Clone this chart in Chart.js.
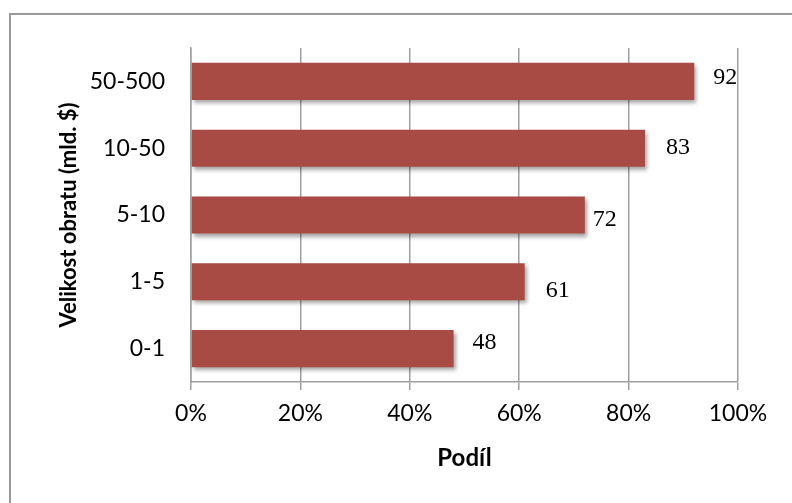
<!DOCTYPE html>
<html>
<head>
<meta charset="utf-8">
<script src="https://cdn.jsdelivr.net/npm/chart.js@4/dist/chart.umd.min.js"></script>
<style>
  html, body { margin: 0; padding: 0; background: #fff; }
  #wrap { position: relative; width: 792px; height: 503px; overflow: hidden; }
  #frame { position: absolute; left: 9px; top: 13px; width: 900px; height: 600px;
           border-left: 2px solid #9a9a9a; border-top: 2px solid #9a9a9a; }
  canvas { position: absolute; left: 0; top: 0; }
</style>
</head>
<body>
<div id="wrap">
  <div id="frame"></div>
  <canvas id="c" width="792" height="503"></canvas>
</div>
<script>
const categories = ['50-500', '10-50', '5-10', '1-5', '0-1'];
const values = [92, 83, 72, 61, 48];
const xTickValues = [0, 20, 40, 60, 80, 100];
const xTitle = 'Podíl';
const yTitle = 'Velikost obratu (mld. $)';

const barColor = '#a84b45';
const gridColor = '#9f9f9f';
const sansFont = "Lato, 'Open Sans', 'Liberation Sans', sans-serif";

const shadowPlugin = {
  id: 'barShadow',
  beforeDatasetDraw(chart) {
    const ctx = chart.ctx;
    ctx.save();
    ctx.shadowColor = 'rgba(0,0,0,0.35)';
    ctx.shadowBlur = 4;
    ctx.shadowOffsetX = 2;
    ctx.shadowOffsetY = 3;
  },
  afterDatasetDraw(chart) {
    chart.ctx.restore();
  }
};

const labelPlugin = {
  id: 'valueLabels',
  afterDatasetsDraw(chart, args, opts) {
    const ctx = chart.ctx;
    const meta = chart.getDatasetMeta(0);
    ctx.save();
    ctx.font = opts.font;
    ctx.fillStyle = '#000';
    ctx.textAlign = 'left';
    ctx.textBaseline = 'middle';
    meta.data.forEach((bar, i) => {
      const nudge = opts.nudges[i] || [0, 0];
      ctx.fillText(String(chart.data.datasets[0].data[i]), bar.x + opts.gap + nudge[0], bar.y + nudge[1]);
    });
    ctx.restore();
  }
};

new Chart(document.getElementById('c'), {
  type: 'bar',
  data: {
    labels: categories,
    datasets: [{
      data: values,
      backgroundColor: barColor,
      borderWidth: 0,
      categoryPercentage: 1.0,
      barPercentage: 0.555
    }]
  },
  options: {
    indexAxis: 'y',
    responsive: false,
    animation: false,
    events: [],
    layout: { padding: { top: 48, right: 54, left: 0, bottom: 0 } },
    plugins: {
      legend: { display: false },
      tooltip: { enabled: false },
      valueLabels: {
        font: "24px 'Liberation Serif', 'Times New Roman', serif",
        gap: 19,
        nudges: [[0, -4], [2, 0], [-11, 5], [2, 9], [0, -6]]
      }
    },
    scales: {
      x: {
        type: 'linear',
        min: 0,
        max: 100,
        afterBuildTicks(scale) { scale.ticks = xTickValues.map(v => ({ value: v })); },
        afterFit(scale) { scale.height = 503 - 382; },
        grid: { display: true, color: gridColor, lineWidth: 1.5, drawTicks: true, tickLength: 8, tickColor: gridColor },
        border: { display: true, color: gridColor, width: 1.5 },
        ticks: {
          padding: 10,
          color: '#000',
          font: { family: sansFont, size: 23 },
          callback: v => v + '%',
          maxRotation: 0
        },
        title: {
          display: true,
          text: xTitle,
          color: '#000',
          font: { family: sansFont, size: 24, weight: 'bold' },
          padding: { top: 0, bottom: 30 }
        }
      },
      y: {
        afterFit(scale) { scale.width = 191; },
        grid: { display: false, drawTicks: false },
        border: { display: true, color: gridColor, width: 1.5 },
        ticks: {
          padding: 26,
          color: '#000',
          font: { family: sansFont, size: 23 }
        },
        title: {
          display: true,
          text: yTitle,
          color: '#000',
          font: { family: sansFont, size: 22, weight: 'bold' },
          padding: { top: 56, bottom: 0 }
        }
      }
    }
  },
  plugins: [shadowPlugin, labelPlugin]
});
</script>
</body>
</html>
